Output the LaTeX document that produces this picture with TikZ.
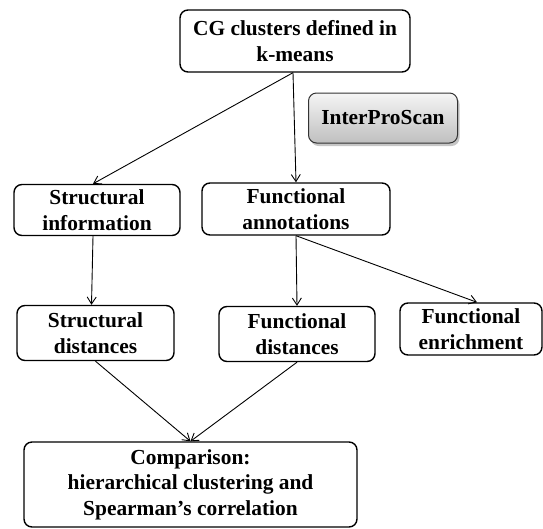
\documentclass[tikz,border=0pt]{standalone}
\usepackage{fontspec}
\setmainfont{Liberation Serif}
\usetikzlibrary{arrows.meta,shadows}
\begin{document}
\begin{tikzpicture}[x=1pt,y=1pt,
  box/.style={draw=black, line width=1.4pt, rounded corners=8pt, align=center,
    font=\fontsize{21.4}{25.5}\selectfont\bfseries, inner sep=0pt},
  grbox/.style={draw=black!80, line width=1pt, rounded corners=8pt, align=center,
    font=\fontsize{21.4}{25.5}\selectfont\bfseries, inner sep=0pt,
    top color=gray!8, bottom color=gray!50,
    drop shadow={shadow xshift=2pt, shadow yshift=-3pt, opacity=0.45}},
  conn/.style={line width=0.9pt, -{Straight Barb[length=7pt,width=9pt]}}]
\useasboundingbox (0,0) rectangle (543,-528);
\node[box, minimum width=230, minimum height=62] (top) at (295,-41) {CG clusters defined in\\k-means};
\node[grbox, minimum width=149, minimum height=50] (ips) at (383,-118) {InterProScan};
\node[box, minimum width=166, minimum height=51] (si) at (97,-210) {Structural\\information};
\node[box, minimum width=188, minimum height=52] (fa) at (296,-209) {Functional\\annotations};
\node[box, minimum width=157, minimum height=55] (sd) at (95.5,-333) {Structural\\distances};
\node[box, minimum width=156, minimum height=55] (fd) at (297,-334) {Functional\\distances};
\node[box, minimum width=142, minimum height=52] (fe) at (471,-329) {Functional\\enrichment};
\node[box, minimum width=333, minimum height=85] (cmp) at (190.5,-484.5) {Comparison:\\hierarchical clustering and\\Spearman’s correlation};
\draw[conn] ([xshift=-2]top.south) -- ([xshift=-4]si.north);
\draw[conn] ([xshift=-2]top.south) -- (fa.north);
\draw[conn] ([xshift=-4]si.south) -- ([xshift=-4]sd.north);
\draw[conn] (fa.south) -- (fd.north);
\draw[conn] (fa.south) -- ([xshift=6]fe.north);
\draw[conn] (sd.south) -- (cmp.north);
\draw[conn] (fd.south) -- (cmp.north);
\end{tikzpicture}
\end{document}
